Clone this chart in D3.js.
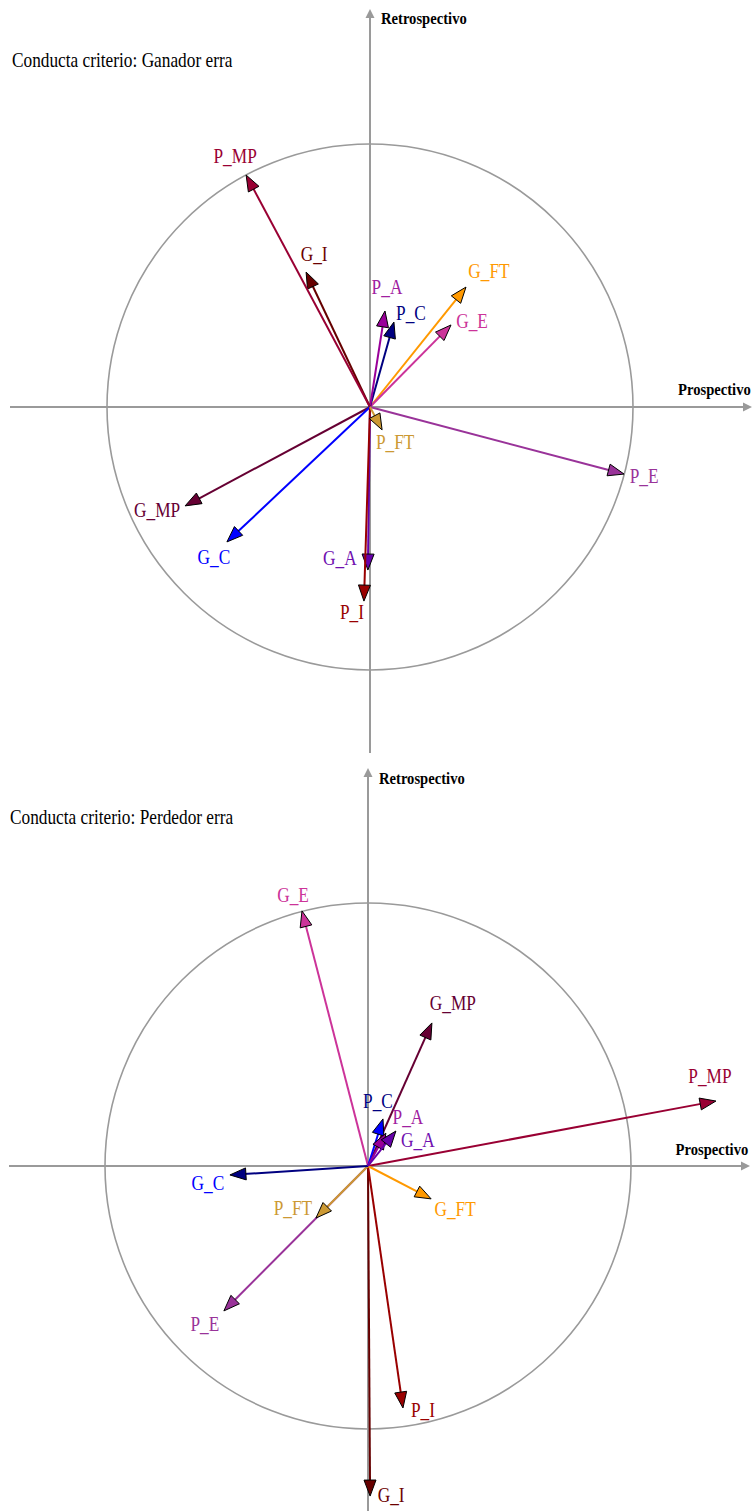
<!DOCTYPE html>
<html>
<head>
<meta charset="utf-8">
<script src="https://cdn.jsdelivr.net/npm/d3@7"></script>
<style>
  html, body { margin: 0; padding: 0; background: #fff; }
  svg { display: block; }
</style>
</head>
<body>
<svg id="chart" width="753" height="1511"></svg>
<script>
// ---------- DATA ----------
const variables = ["P_MP", "G_I", "P_A", "P_C", "G_FT", "G_E", "P_FT", "P_E", "G_MP", "G_C", "G_A", "P_I"];

// Panel 1: "Ganador erra" — coordinates on Prospectivo (x) and Retrospectivo (y)
const ganadorProspectivo   = [-0.471, -0.243, 0.057, 0.091, 0.365, 0.308, 0.046, 0.966, -0.703, -0.544, -0.008, -0.023];
const ganadorRetrospectivo = [ 0.882,  0.513, 0.365, 0.323, 0.456, 0.312, -0.087, -0.255, -0.376, -0.513, -0.620, -0.738];

// Panel 2: "Perdedor erra"
const perdedorProspectivo   = [1.323, 0.008, 0.068, 0.057, 0.240, -0.251, -0.198, -0.548, 0.243, -0.525, 0.106, 0.133];
const perdedorRetrospectivo = [0.247, -1.255, 0.125, 0.179, -0.125, 0.970, -0.198, -0.551, 0.544, -0.034, 0.133, -0.920];

const titles = ["Conducta criterio: Ganador erra", "Conducta criterio: Perdedor erra"];
const axisTitles = ["Prospectivo", "Retrospectivo"];

// ---------- STYLE / LAYOUT ----------
const labelColors = {
  P_MP: "#990033", G_I: "#6b0000", P_A: "#a020a0", P_C: "#000080",
  G_FT: "#ff9900", G_E: "#cc3399", P_FT: "#cc9933", P_E: "#993399",
  G_MP: "#660033", G_C: "#0000ff", G_A: "#7010b0", P_I: "#990000"
};
const arrowColors1 = Object.assign({}, labelColors, {P_A: "#990099", G_A: "#6600aa", G_I: "#660000"});
const arrowColors2 = Object.assign({}, arrowColors1, {P_C: "#0000ff", G_C: "#000080"});

// label offsets (px) from arrow tip: [dx, dy baseline]
const labelOffsets1 = {
  P_MP: [-11, -12], G_I: [8, -11], P_A: [2, -17], P_C: [17, -2],
  G_FT: [23, -9], G_E: [21, 3], P_FT: [13, 19], P_E: [20, 9],
  G_MP: [-28, 11], G_C: [-13, 22], G_A: [-28, -5], P_I: [-12, 18]
};
const labelOffsets2 = {
  G_E: [-9, -9], G_MP: [21, -13], P_MP: [-6, -18], P_C: [-5, -11],
  P_A: [22, -9], G_A: [22, 16], G_C: [-22, 15], P_FT: [-23, -3],
  G_FT: [24, 17], P_E: [-19, 20], P_I: [20, 9], G_I: [21, 6]
};

const panels = [
  { cx: 370, cy: 407, r: 263, hx: [10, 752], vy: [9, 753],
    xs: ganadorProspectivo, ys: ganadorRetrospectivo, title: titles[0],
    titlePos: [12, 67], retroPos: [381, 24], prosPos: [678, 395],
    arrowColors: arrowColors1, offsets: labelOffsets1,
    order: ["G_FT","G_E","P_C","P_A","G_I","P_MP","P_E","G_MP","G_C","G_A","P_I","P_FT"] },
  { cx: 368, cy: 1166, r: 263, hx: [9, 750], vy: [768, 1515],
    xs: perdedorProspectivo, ys: perdedorRetrospectivo, title: titles[1],
    titlePos: [10, 824], retroPos: [379, 784], prosPos: [675.5, 1155],
    arrowColors: arrowColors2, offsets: labelOffsets2,
    order: ["G_E","G_MP","P_MP","G_I","P_I","P_E","P_FT","G_FT","G_C","P_C","P_A","G_A"] }
];

const svg = d3.select("#chart");
const axisGray = "#9a9a9a";
const SX = 0.865;

function scaledText(g, txt, x, y, opts) {
  const t = g.append("text")
    .attr("transform", `translate(${x},${y}) scale(${opts.sx || SX},1)`)
    .attr("font-family", "'Liberation Serif', 'Times New Roman', serif")
    .attr("font-size", opts.size || 20)
    .attr("font-weight", opts.weight || "normal")
    .attr("text-anchor", opts.anchor || "start")
    .attr("fill", opts.fill || "#000")
    .text(txt);
  return t;
}

panels.forEach(p => {
  const g = svg.append("g");
  const x = d3.scaleLinear().domain([-1, 1]).range([p.cx - p.r, p.cx + p.r]);
  const y = d3.scaleLinear().domain([-1, 1]).range([p.cy + p.r, p.cy - p.r]);

  // circle
  g.append("circle")
    .attr("cx", x(0)).attr("cy", y(0))
    .attr("r", x(1) - x(0))
    .attr("fill", "none").attr("stroke", axisGray).attr("stroke-width", 1.6);

  // axes
  g.append("line").attr("x1", p.hx[0]).attr("x2", p.hx[1] - 6)
    .attr("y1", y(0)).attr("y2", y(0))
    .attr("stroke", axisGray).attr("stroke-width", 2);
  g.append("path")
    .attr("d", `M${p.hx[1]},${y(0)} L${p.hx[1] - 9},${y(0) - 4.5} L${p.hx[1] - 9},${y(0) + 4.5} Z`)
    .attr("fill", axisGray);
  g.append("line").attr("x1", x(0)).attr("x2", x(0))
    .attr("y1", p.vy[0] + 6).attr("y2", p.vy[1])
    .attr("stroke", axisGray).attr("stroke-width", 2);
  g.append("path")
    .attr("d", `M${x(0)},${p.vy[0]} L${x(0) - 4.5},${p.vy[0] + 9} L${x(0) + 4.5},${p.vy[0] + 9} Z`)
    .attr("fill", axisGray);

  // titles
  scaledText(g, p.title, p.titlePos[0], p.titlePos[1], {size: 20});
  scaledText(g, axisTitles[1], p.retroPos[0], p.retroPos[1], {size: 17, weight: "bold", sx: 0.86});
  scaledText(g, axisTitles[0], p.prosPos[0], p.prosPos[1], {size: 17, weight: "bold", sx: 0.86});

  // vectors
  const data = variables.map((v, i) => ({ name: v, px: p.xs[i], py: p.ys[i] }));
  const byName = {};
  data.forEach(d => byName[d.name] = d);
  const ordered = p.order.map(n => byName[n]);

  const HL = 16, HW = 6;
  const arrows = g.selectAll("g.vec").data(ordered).join("g").attr("class", "vec");
  arrows.each(function(d) {
    const sel = d3.select(this);
    const x0 = x(0), y0 = y(0), x1 = x(d.px), y1 = y(d.py);
    const dx = x1 - x0, dy = y1 - y0, L = Math.hypot(dx, dy);
    const ux = dx / L, uy = dy / L;
    const bx = x1 - ux * HL, by = y1 - uy * HL;
    const col = p.arrowColors[d.name];
    sel.append("line")
      .attr("x1", x0).attr("y1", y0).attr("x2", bx + ux * 2).attr("y2", by + uy * 2)
      .attr("stroke", col).attr("stroke-width", 2);
    sel.append("path")
      .attr("d", `M${x1},${y1} L${bx - uy * HW},${by + ux * HW} L${bx + uy * HW},${by - ux * HW} Z`)
      .attr("fill", col).attr("stroke", "#000").attr("stroke-width", 1).attr("stroke-linejoin", "miter");
  });

  // labels
  data.forEach(d => {
    const off = p.offsets[d.name];
    scaledText(g, d.name, x(d.px) + off[0], y(d.py) + off[1], {
      size: 20, anchor: "middle", fill: labelColors[d.name]
    });
  });
});
</script>
</body>
</html>
